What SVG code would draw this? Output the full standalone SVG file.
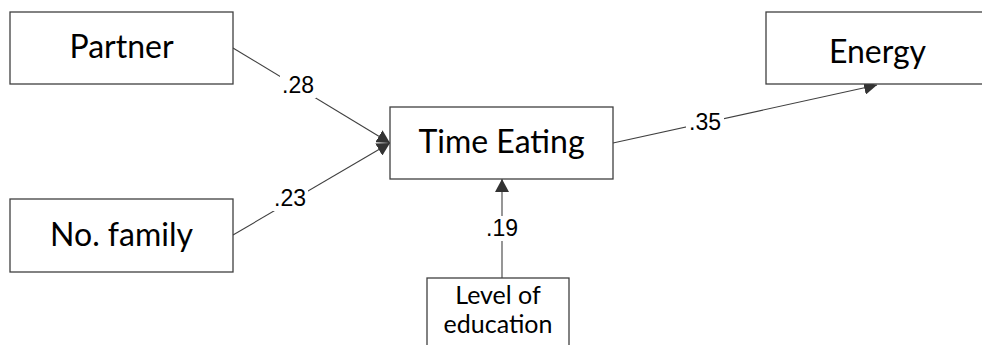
<svg xmlns="http://www.w3.org/2000/svg" width="982" height="345" viewBox="0 0 982 345">
  <style>
    .box { fill: #ffffff; stroke: #404040; stroke-width: 1.3; }
    .name { font-family: "Lato", "Open Sans", sans-serif; font-size: 32px; fill: #000000; text-anchor: middle; }
    .small { font-size: 25px; }
    .edge { fill: none; stroke: #404040; stroke-width: 1.1; }
    .coef { font-family: "Liberation Sans", Arial, sans-serif; font-size: 23px; fill: #000000; text-anchor: middle; }
    .mask { fill: #ffffff; }
  </style>
  <defs>
    <marker id="arrow" markerUnits="userSpaceOnUse" markerWidth="14" markerHeight="14" refX="13" refY="7" orient="auto" viewBox="0 0 14 14">
      <path d="M0,0 L13,7 L0,14 z" fill="#333333"/>
    </marker>
  </defs>

  <!-- paths with standardized coefficients -->
  <g id="connectors">
    <line class="edge" x1="233" y1="48" x2="390" y2="143" marker-end="url(#arrow)"/>
    <line class="edge" x1="233" y1="235" x2="390" y2="143" marker-end="url(#arrow)"/>
    <line class="edge" x1="613" y1="143" x2="877" y2="85" marker-end="url(#arrow)"/>
    <line class="edge" x1="502" y1="278" x2="502" y2="179" marker-end="url(#arrow)"/>

    <rect class="mask" x="280" y="73" width="36" height="25"/>
    <text class="coef" x="298" y="93">.28</text>
    <rect class="mask" x="271" y="186" width="37" height="25"/>
    <text class="coef" x="290" y="206">.23</text>
    <rect class="mask" x="686" y="111" width="38" height="23"/>
    <text class="coef" x="705" y="130">.35</text>
    <rect class="mask" x="483" y="216" width="38" height="25"/>
    <text class="coef" x="502" y="236">.19</text>
  </g>

  <g id="partner">
    <rect class="box" x="10" y="12" width="223" height="72"/>
    <text class="name" x="121.5" y="58">Partner</text>
  </g>

  <g id="no-family">
    <rect class="box" x="10" y="199" width="223" height="73"/>
    <text class="name" x="121.5" y="246">No. family</text>
  </g>

  <g id="time-eating">
    <rect class="box" x="390" y="107" width="223" height="72"/>
    <text class="name" x="501.5" y="153">Time Eating</text>
  </g>

  <g id="energy">
    <rect class="box" x="766" y="12" width="223" height="72"/>
    <text class="name" x="877.5" y="63">Energy</text>
  </g>

  <g id="level-of-education">
    <rect class="box" x="427" y="278" width="142" height="80"/>
    <text class="name small" x="498" y="304">Level of</text>
    <text class="name small" x="498" y="333">education</text>
  </g>
</svg>
